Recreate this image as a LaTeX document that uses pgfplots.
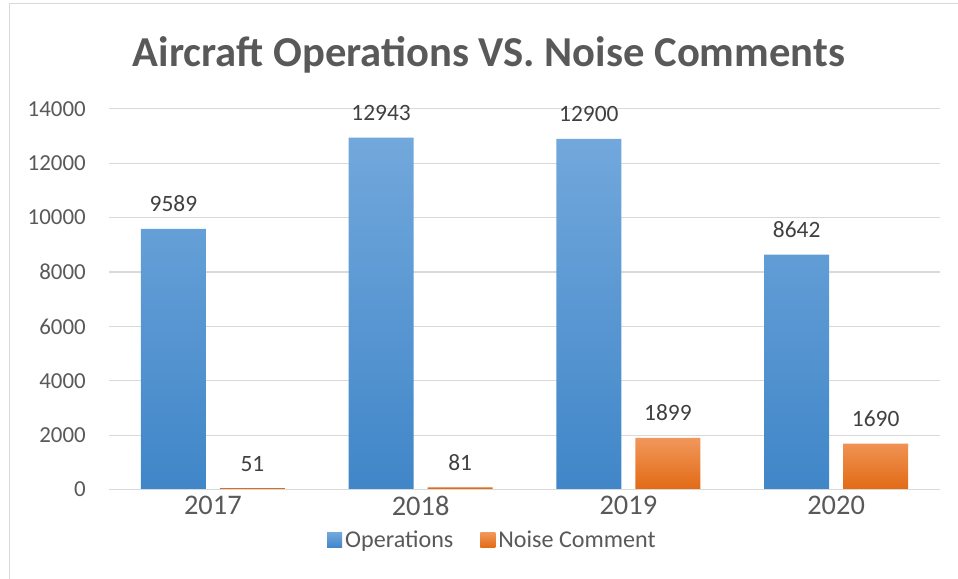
\documentclass[border=0pt]{standalone}
\usepackage{pgfplots}
\pgfplotsset{compat=1.18}
\usepackage{fontspec}
\setmainfont{Carlito}
\definecolor{txt}{HTML}{595959}
\definecolor{lbl}{HTML}{404040}
\definecolor{gridc}{HTML}{D9D9D9}
\definecolor{btop}{HTML}{72A8DC}
\definecolor{bbot}{HTML}{4086C8}
\definecolor{otop}{HTML}{F1975B}
\definecolor{obot}{HTML}{E26A15}
\begin{document}
\begin{tikzpicture}
\useasboundingbox (0,0) rectangle (958bp,579bp);
\draw[gridc, line width=1bp] (9bp,0) -- (9bp,575bp) -- (958bp,575bp);
\node[anchor=base, text=txt, font=\fontsize{42.8}{46}\selectfont\bfseries] at (489bp,512bp) {Aircraft Operations VS. Noise Comments};
\begin{axis}[
  at={(109bp,89.5bp)}, anchor=south west,
  scale only axis, width=831bp, height=380.6bp,
  xmin=-0.5, xmax=3.5, ymin=0, ymax=14000,
  ybar=14bp, bar width=65bp,
  axis line style={draw=none},
  major tick length=0pt, tick style={draw=none},
  ymajorgrids, xmajorgrids=false, grid style={gridc, line width=1.2bp},
  scaled y ticks=false,
  xtick={0,1,2,3}, xticklabels={2017,2018,2019,2020},
  ytick={0,2000,4000,6000,8000,10000,12000,14000},
  yticklabels={0,2000,4000,6000,8000,10000,12000,14000},
  xticklabel style={font=\fontsize{28.5}{30}\selectfont, text=txt, inner sep=0pt, yshift=-6bp},
  yticklabel style={font=\fontsize{23}{25}\selectfont, text=txt, inner sep=0pt, xshift=-23bp},
  /pgf/number format/1000 sep={},
  /pgf/number format/assume math mode=true,
  nodes near coords,
  every node near coord/.append style={font=\fontsize{23.5}{25}\selectfont, text=lbl, anchor=base, yshift=17bp},
  legend columns=2,
  legend style={draw=none, at={(0.462,-0.1327)}, anchor=center,
    font=\fontsize{24.2}{26}\selectfont, text=txt,
    /tikz/every even column/.append style={column sep=24bp},
    nodes={inner sep=3bp}},
  legend image code/.code={\path[#1] (0bp,-7.5bp) rectangle (15bp,7.5bp);},
  clip=false,
]
\addplot[draw=none, top color=btop, bottom color=bbot] coordinates {(0,9589) (1,12943) (2,12900) (3,8642)};
\addplot[draw=none, top color=otop, bottom color=obot] coordinates {(0,51) (1,81) (2,1899) (3,1690)};
\draw[gridc, line width=1.2bp] (axis cs:-0.5,0) -- (axis cs:3.5,0);
\legend{Operations, Noise Comment}
\end{axis}
\end{tikzpicture}
\end{document}
